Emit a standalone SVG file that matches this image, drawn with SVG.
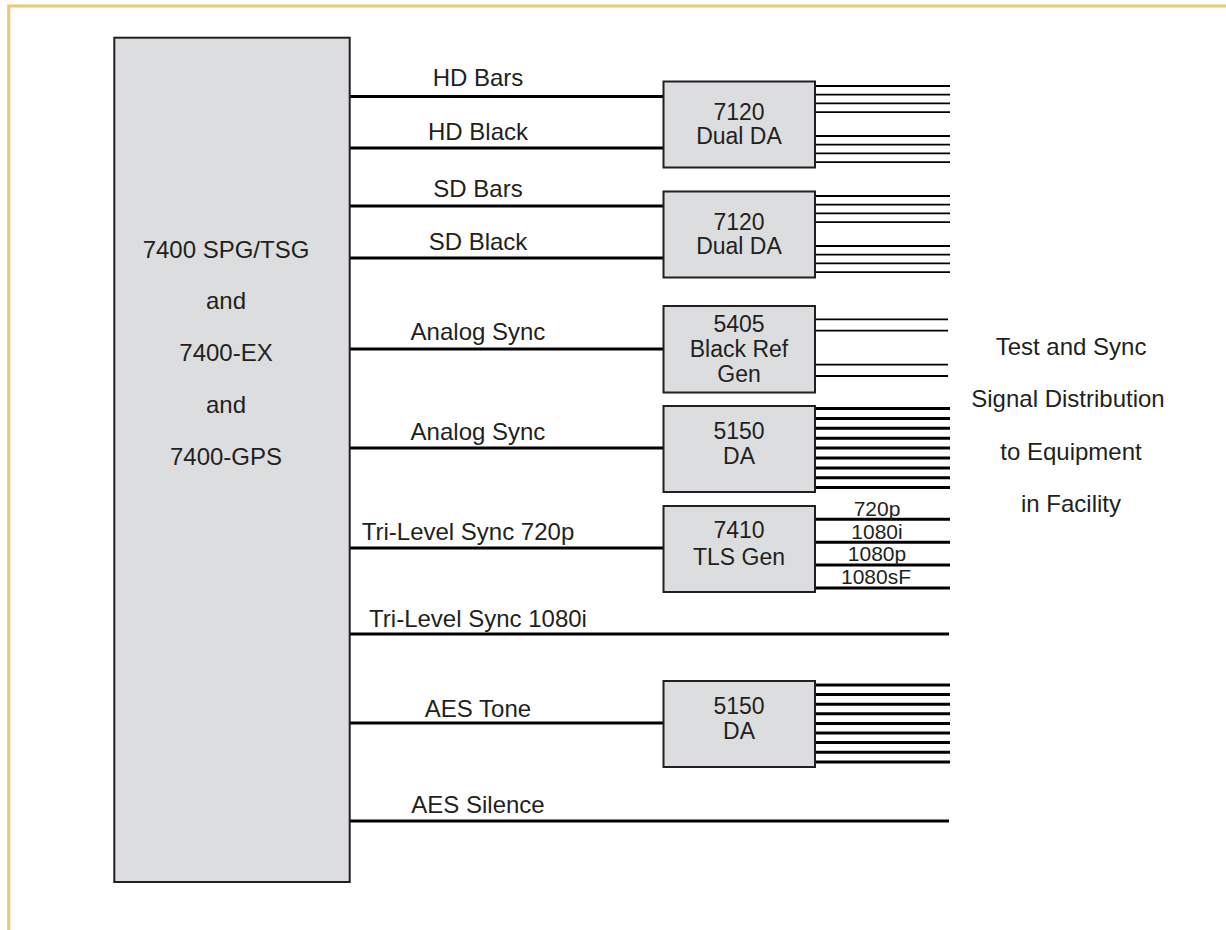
<svg xmlns="http://www.w3.org/2000/svg" width="1226" height="930" viewBox="0 0 1226 930">
<style>
text{font-family:"Liberation Sans",Arial,sans-serif;fill:#231F20}
.box{fill:#DCDDDF;stroke:#231F20;stroke-width:2}
.bt{font-size:23px;text-anchor:middle}
.mt{font-size:24px;text-anchor:middle}
.lbl{font-size:24px;text-anchor:middle}
.sm{font-size:21px;text-anchor:middle}
.main{stroke:#000;stroke-width:3;fill:none}
.thin{stroke:#000;stroke-width:1.8;fill:none}
.thick{stroke:#000;stroke-width:3;fill:none}
</style>
<rect width="1226" height="930" fill="#fff"/>
<path d="M8.7 930 V6 H1226" fill="none" stroke="#ECC872" stroke-width="3"/>

<g id="connectors">
  <path class="main" d="M350 96.5H663M350 148H663M350 206H663M350 258H663M350 349H663M350 448H663M350 548H663M350 634H949M350 723H663M350 821H949"/>
  <g id="out-7120a" class="thin"><path d="M815 86H950M815 94.7H950M815 103.4H950M815 112.1H950M815 136H950M815 144.7H950M815 153.4H950M815 162.1H950"/></g>
  <g id="out-7120b" class="thin"><path d="M815 196H950M815 204.7H950M815 213.4H950M815 222.1H950M815 246H950M815 254.7H950M815 263.4H950M815 272.1H950"/></g>
  <g id="out-5405" class="thin"><path d="M815 319.3H948M815 330.7H948M815 364.7H948M815 376H948"/></g>
  <g id="out-5150a" class="thick"><path d="M815 408.5H950M815 418.4H950M815 428.3H950M815 438.2H950M815 448.1H950M815 458H950M815 467.9H950M815 477.8H950M815 487.5H950"/></g>
  <g id="out-7410" class="thick"><path d="M815 519.3H950M815 542.3H950M815 565H950M815 588H950"/></g>
  <g id="out-5150b" class="thick"><path d="M815 685H950M815 694.6H950M815 704.2H950M815 713.8H950M815 723.4H950M815 733H950M815 742.6H950M815 752.2H950M815 762H950"/></g>
  <g id="labels">
    <text class="lbl" x="478" y="86">HD Bars</text>
    <text class="lbl" x="478" y="140">HD Black</text>
    <text class="lbl" x="478" y="197">SD Bars</text>
    <text class="lbl" x="478" y="250">SD Black</text>
    <text class="lbl" x="478" y="340">Analog Sync</text>
    <text class="lbl" x="478" y="440">Analog Sync</text>
    <text class="lbl" x="468" y="540">Tri-Level Sync 720p</text>
    <text class="lbl" x="478" y="626.5">Tri-Level Sync 1080i</text>
    <text class="lbl" x="478" y="716.5">AES Tone</text>
    <text class="lbl" x="478" y="812.5">AES Silence</text>
    <text class="sm" x="877" y="516">720p</text>
    <text class="sm" x="877" y="538.5">1080i</text>
    <text class="sm" x="877" y="561">1080p</text>
    <text class="sm" x="876" y="584">1080sF</text>
  </g>
</g>

<g id="spg">
  <rect class="box" x="114.3" y="37.7" width="235.4" height="844.3"/>
  <text class="mt" x="226" y="257.7">7400 SPG/TSG</text>
  <text class="mt" x="226" y="309.3">and</text>
  <text class="mt" x="226" y="360.7">7400-EX</text>
  <text class="mt" x="226" y="412.7">and</text>
  <text class="mt" x="226" y="465">7400-GPS</text>
</g>

<g id="da7120a">
  <rect class="box" x="663.5" y="81.5" width="151.5" height="86"/>
  <text class="bt" x="739" y="120">7120</text>
  <text class="bt" x="739" y="144">Dual DA</text>
</g>
<g id="da7120b">
  <rect class="box" x="663.5" y="191.5" width="151.5" height="86"/>
  <text class="bt" x="739" y="230">7120</text>
  <text class="bt" x="739" y="254">Dual DA</text>
</g>
<g id="gen5405">
  <rect class="box" x="663.5" y="306" width="151.5" height="86.5"/>
  <text class="bt" x="739" y="332.3">5405</text>
  <text class="bt" x="739" y="357.3">Black Ref</text>
  <text class="bt" x="739" y="381.7">Gen</text>
</g>
<g id="da5150a">
  <rect class="box" x="663.5" y="406" width="151.5" height="86"/>
  <text class="bt" x="739" y="439.3">5150</text>
  <text class="bt" x="739" y="464.3">DA</text>
</g>
<g id="tls7410">
  <rect class="box" x="663.5" y="506" width="151.5" height="86"/>
  <text class="bt" x="739" y="538.3">7410</text>
  <text class="bt" x="739" y="565">TLS Gen</text>
</g>
<g id="da5150b">
  <rect class="box" x="663.5" y="681" width="151.5" height="86"/>
  <text class="bt" x="739" y="714">5150</text>
  <text class="bt" x="739" y="739.3">DA</text>
</g>

<g id="destination">
  <text class="mt" x="1071" y="355">Test and Sync</text>
  <text class="mt" x="1068" y="407">Signal Distribution</text>
  <text class="mt" x="1071" y="460">to Equipment</text>
  <text class="mt" x="1071" y="511.7">in Facility</text>
</g>
</svg>
